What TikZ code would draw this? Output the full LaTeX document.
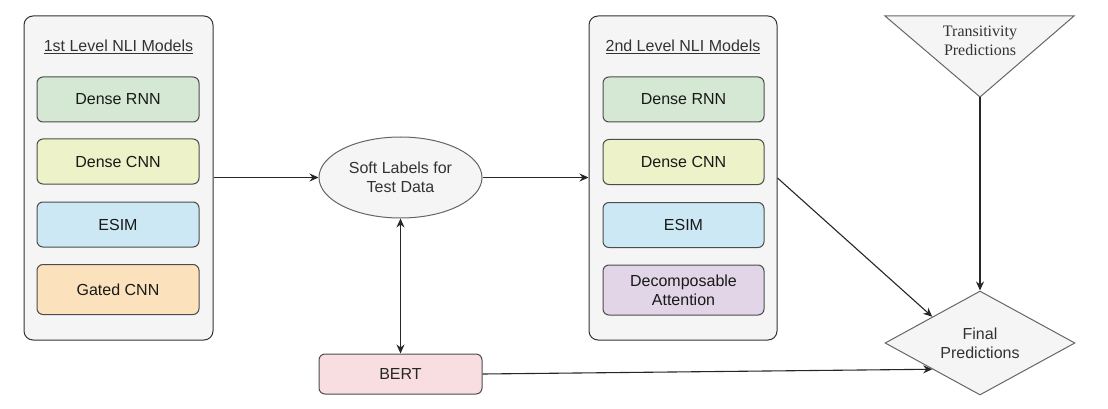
\documentclass[tikz,border=0pt]{standalone}
\usepackage{fontspec}
\setmainfont{Liberation Sans}
\newfontfamily\serifnf{Liberation Serif}
\usetikzlibrary{shapes.geometric,arrows.meta}
\definecolor{cont}{HTML}{F5F5F5}
\definecolor{contline}{HTML}{333333}
\definecolor{shapeline}{HTML}{666666}
\definecolor{txtgray}{HTML}{333333}
\definecolor{cgreen}{HTML}{D5E8D4}
\definecolor{cyellow}{HTML}{EEF2C8}
\definecolor{cblue}{HTML}{CCE8F4}
\definecolor{corange}{HTML}{FBE2BC}
\definecolor{cpurple}{HTML}{E1D5E7}
\definecolor{cpink}{HTML}{F8DEE0}
\tikzset{
  container/.style={draw=contline,fill=cont,rounded corners=9pt,line width=1pt,minimum width=189pt,minimum height=324pt,inner sep=0pt},
  model/.style={draw=black!70,rounded corners=6pt,line width=1pt,minimum width=162pt,minimum height=45pt,inner sep=0pt,align=center,font=\fontsize{16}{19}\selectfont,text=black!90},
  grayshape/.style={draw=shapeline,fill=cont,line width=1pt,align=center,font=\fontsize{16}{19}\selectfont,text=txtgray,inner sep=0pt},
  title/.style={font=\fontsize{16}{19}\selectfont,text=txtgray},
  arr/.style={-{Stealth[length=9pt,width=8pt]},line width=1.1pt,black!85},
  darr/.style={{Stealth[length=9pt,width=8pt]}-{Stealth[length=9pt,width=8pt]},line width=1.1pt,black!85},
}
\begin{document}
\begin{tikzpicture}[x=1pt,y=-1pt]
\useasboundingbox (0,0) rectangle (1108,409);
% left container
\node[container] (c1) at (118.5,178) {};
\node[title] (t1) at (118.5,47) {\underline{1st Level NLI Models}};
\node[model,fill=cgreen]  (l1) at (118,99.5) {Dense RNN};
\node[model,fill=cyellow] (l2) at (118,161.5) {Dense CNN};
\node[model,fill=cblue]   (l3) at (118,224.5) {ESIM};
\node[model,fill=corange,minimum height=50pt] (l4) at (118,289.5) {Gated CNN};
% right container
\node[container,minimum width=188pt] (c2) at (683,178) {};
\node[title] (t2) at (683,47) {\underline{2nd Level NLI Models}};
\node[model,fill=cgreen,minimum width=161pt]  (r1) at (683.5,99.5) {Dense RNN};
\node[model,fill=cyellow,minimum width=161pt] (r2) at (683.5,162) {Dense CNN};
\node[model,fill=cblue,minimum width=161pt]   (r3) at (683.5,225) {ESIM};
\node[model,fill=cpurple,minimum width=161pt,minimum height=50pt] (r4) at (683.5,290) {Decomposable\\Attention};
% ellipse
\node[grayshape,ellipse,minimum width=163pt,minimum height=81pt] (soft) at (400.5,177.5) {Soft Labels for\\Test Data};
% BERT
\node[model,fill=cpink,minimum width=163pt,minimum height=40pt,text=black!85] (bert) at (400.5,374) {BERT};
% triangle
\draw[draw=shapeline,fill=cont,line width=1pt,line join=miter] (885,16) -- (1074,16) -- (980,97) -- cycle;
\coordinate (tp) at (980,97);
\node[align=center,font=\serifnf\fontsize{16}{19}\selectfont,text=txtgray] (trans) at (980,41) {Transitivity\\Predictions};
% diamond
\node[grayshape,diamond,aspect=1.83,minimum width=190pt,minimum height=104pt] (fp) at (980,343) {Final\\Predictions};
% connectors
\draw[arr] (c1.east |- soft.west) -- (soft.west);
\draw[arr] (soft.east) -- (soft.east -| c2.west);
\draw[darr] (soft.south) -- (bert.north);
\draw[arr] (tp) -- (fp.north);
\draw[arr] (c2.east) -- (fp.north west);
\draw[arr] (bert.east) -- (fp.south west);
\end{tikzpicture}
\end{document}
